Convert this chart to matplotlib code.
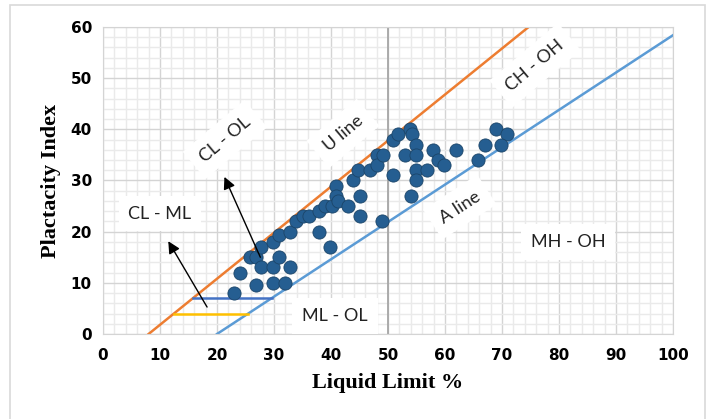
# Plasticity chart (Casagrande) with sample points

import matplotlib.pyplot as plt
import numpy as np
from matplotlib.patches import Rectangle
from matplotlib.ticker import MultipleLocator

# sample points
liquid_limit = [23.0, 24.0, 26.8, 25.7, 26.8, 27.8, 27.8, 29.9, 29.9, 31.9,
                29.9, 30.8, 30.9, 32.8, 32.8, 33.9, 35.0, 36.2, 37.9, 37.9,
                38.9, 39.8, 40.1, 40.9, 40.9, 41.3, 43.0, 43.9, 44.8, 45.0,
                45.0, 46.8, 48.0, 48.0, 49.2, 48.9, 50.9, 51.8, 50.9, 52.9,
                53.9, 54.2, 54.9, 54.9, 54.9, 54.9, 54.0, 56.8, 57.9, 58.8,
                59.8, 61.9, 65.8, 67.0, 68.9, 70.8, 69.9]
plasticity_index = [8, 12, 9.5, 15, 15, 17, 13, 13, 10, 10,
                    18, 19.3, 15, 13, 20, 22, 23, 23, 24, 20,
                    25, 17, 25, 29, 27, 26, 25, 30, 32, 27,
                    23, 32, 35, 33, 35, 22, 38, 39, 31, 35,
                    40, 39, 37, 35, 32, 30, 27, 32, 36, 34,
                    33, 36, 34, 37, 40, 39, 37]

# U line: PI = 0.9 (LL - 8), A line: PI = 0.73 (LL - 20)
u_ll = [8, 8 + 60 / 0.9]
u_pi = [0, 60]
a_ll = [20, 100]
a_pi = [0, 0.73 * 80]
cl_ml_top = 7
cl_ml_bot = 4

fig = plt.figure(figsize=(7.11, 4.19), dpi=100)
ax = fig.add_axes([0.1449, 0.2029, 0.8017, 0.7327])

ax.set_xlim(0, 100)
ax.set_ylim(0, 60)
ax.xaxis.set_major_locator(MultipleLocator(10))
ax.yaxis.set_major_locator(MultipleLocator(10))
ax.xaxis.set_minor_locator(MultipleLocator(2))
ax.yaxis.set_minor_locator(MultipleLocator(2))
ax.grid(which="minor", color="#EAEAEA", linewidth=1.0, zorder=0)
ax.grid(which="major", color="#D4D4D4", linewidth=1.0, zorder=0)
ax.set_axisbelow(True)
ax.tick_params(which="both", length=0)
for s in ax.spines.values():
    s.set_color("#D4D4D4")
ax.axvline(50, color="#A6A6A6", linewidth=1.3, zorder=1)

ax.plot(u_ll, u_pi, color="#ED7D31", linewidth=1.8, zorder=2)
ax.plot(a_ll, a_pi, color="#5B9BD5", linewidth=1.8, zorder=2)
ax.plot([cl_ml_top / 0.9 + 8, cl_ml_top / 0.73 + 20], [cl_ml_top] * 2,
        color="#4472C4", linewidth=1.8, zorder=2)
ax.plot([cl_ml_bot / 0.9 + 8, cl_ml_bot / 0.73 + 20], [cl_ml_bot] * 2,
        color="#FFC000", linewidth=1.8, zorder=2)

ax.scatter(liquid_limit, plasticity_index, s=90, color="#255E91",
           edgecolor="#1B4569", linewidth=0.6, zorder=4)

box = dict(facecolor="white", edgecolor="none", pad=7)
lbl = dict(fontsize=13, family="Lato", color="#222222", ha="center",
           va="center", bbox=box, zorder=5)
ax.text(21.4, 38.0, "CL - OL", rotation=40, **lbl)
ax.text(42.1, 39.2, "U line", rotation=40, **lbl)
ax.text(75.8, 52.5, "CH - OH", rotation=40, **lbl)
ax.text(62.6, 24.8, "A line", rotation=33, **lbl)
ax.text(81.6, 18.0, "MH - OH", **lbl)
ax.text(40.7, 3.5, "ML - OL", **lbl)
ax.text(10.0, 23.5, "CL - ML", **lbl)

arrow = dict(arrowstyle="-|>", color="black", linewidth=1.0, mutation_scale=18)
ax.annotate("", xy=(11.2, 18.6), xytext=(18.5, 4.8), arrowprops=arrow, zorder=6)
ax.annotate("", xy=(21.1, 31.2), xytext=(27.8, 14.5), arrowprops=arrow, zorder=6)

for t in ax.get_xticklabels() + ax.get_yticklabels():
    t.set_fontweight("bold")
    t.set_fontsize(11)
ax.tick_params(axis="x", pad=10)
ax.tick_params(axis="y", pad=8)

ax.set_xlabel("Liquid Limit %", family="Liberation Serif", fontweight="bold",
              fontsize=16, labelpad=7)
ax.set_ylabel("Plactacity Index", family="Liberation Serif", fontweight="bold",
              fontsize=16, labelpad=7)

# outer chart frame
fig.patches.append(Rectangle((10 / 711, -0.05), 695 / 711, 1.05 - 5 / 419,
                             transform=fig.transFigure, fill=False,
                             edgecolor="#D9D9D9", linewidth=1.2))

fig.savefig("out.png", dpi=100)
